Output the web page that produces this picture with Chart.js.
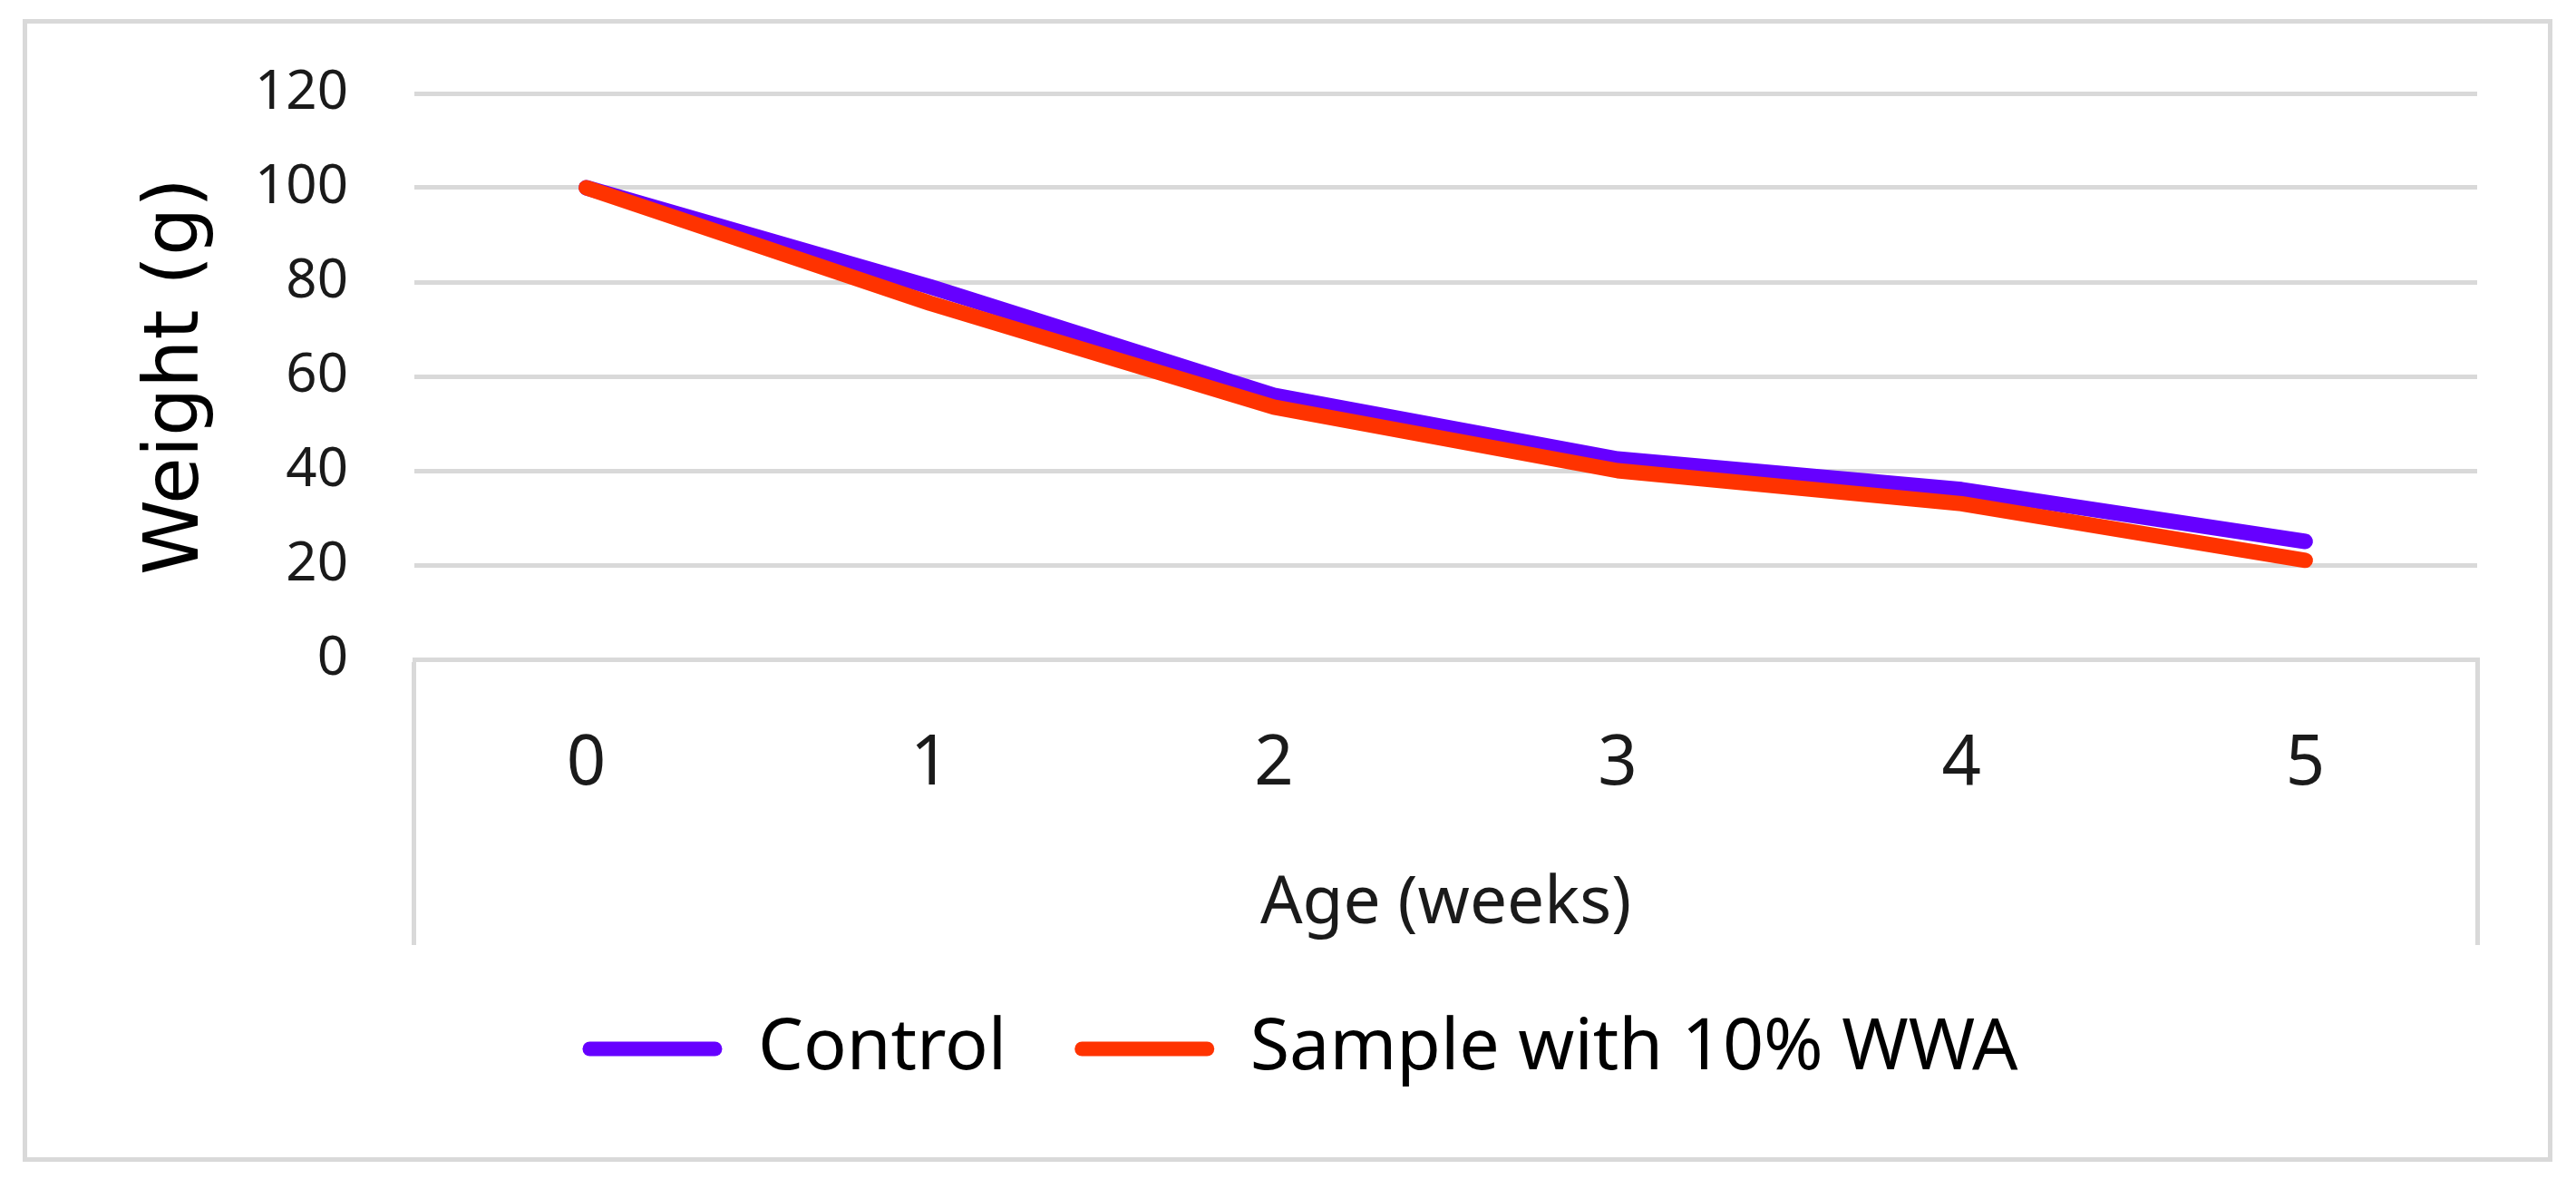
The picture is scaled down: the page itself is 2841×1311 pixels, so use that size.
<!DOCTYPE html>
<html>
<head>
<meta charset="utf-8">
<title>Weight by age</title>
<script src="https://cdn.jsdelivr.net/npm/chart.js@4.4.1/dist/chart.umd.min.js"></script>
<style>
    body { margin: 0; background: #fff; }
    #moldura {
        position: absolute; left: 25px; top: 21px;
        width: 2790px; height: 1260px;
        box-sizing: border-box; border: 5px solid #d9d9d9;
    }
    #grafico { position: absolute; left: 0; top: 0; }
</style>
</head>
<body>
<div id="moldura"></div>
<canvas id="grafico" width="2841" height="1311"></canvas>
<script>
// dados
const semanas = ['0', '1', '2', '3', '4', '5'];
const controle = [100, 79, 56, 42.5, 36, 25];
const amostra = [100, 75.5, 53.5, 40, 33, 21];
const nomes = ['Control', 'Sample with 10% WWA'];
const limiteY = 120;
const passoY = 20;

const cinza = '#d9d9d9';

const ctx = document.getElementById('grafico').getContext('2d');
new Chart(ctx, {
    type: 'line',
    data: {
        labels: semanas,
        datasets: [{
            label: nomes[0],
            data: controle,
            borderColor: '#6600ff',
            backgroundColor: '#6600ff',
            order: 1
        }, {
            label: nomes[1],
            data: amostra,
            borderColor: '#ff3300',
            backgroundColor: '#ff3300',
            order: 0 // vermelho por cima
        }]
    },
    options: {
        responsive: false,
        devicePixelRatio: 1,
        animation: false,
        layout: { padding: { left: 136, right: 109, top: 103, bottom: 105 } },
        elements: {
            line: { borderWidth: 17, tension: 0, borderCapStyle: 'round', borderJoinStyle: 'round', fill: false },
            point: { radius: 0, hoverRadius: 0 }
        },
        plugins: {
            tooltip: { enabled: false },
            legend: {
                position: 'bottom',
                labels: {
                    font: { family: 'Noto Sans', size: 79, lineHeight: 1 },
                    color: '#000',
                    boxWidth: 154,
                    boxHeight: 16,
                    padding: 75,
                    useBorderRadius: true,
                    borderRadius: 8,
                    generateLabels: function (chart) {
                        const itens = Chart.defaults.plugins.legend.labels.generateLabels(chart);
                        return itens.map(i => Object.assign({}, i, { lineWidth: 0, fillStyle: i.strokeStyle }));
                    },
                    sort: (a, b) => a.datasetIndex - b.datasetIndex
                }
            }
        },
        scales: {
            x: {
                offset: true,
                afterFit: function (escala) { escala.height = 315; },
                grid: {
                    offset: true,
                    drawOnChartArea: false,
                    drawTicks: true,
                    tickLength: 315,
                    tickWidth: 5,
                    lineWidth: 5,
                    tickColor: c => (c.type === 'tick' && c.index > 0) ? 'rgba(0,0,0,0)' : cinza,
                    color: c => (c.type === 'tick' && c.index > 0) ? 'rgba(0,0,0,0)' : cinza
                },
                border: { display: true, color: cinza, width: 5 },
                ticks: {
                    padding: -237,
                    color: '#1a1a1a',
                    font: { family: 'Noto Sans', size: 76, lineHeight: 1 }
                },
                title: {
                    display: true,
                    text: 'Age (weeks)',
                    color: '#1a1a1a',
                    font: { family: 'Noto Sans', size: 73, lineHeight: 1 },
                    padding: { top: 0, bottom: 8 }
                }
            },
            y: {
                min: 0,
                max: limiteY,
                afterFit: function (escala) { escala.width = 321; },
                grid: { color: cinza, lineWidth: 5, drawTicks: false },
                border: { display: false },
                ticks: {
                    stepSize: passoY,
                    padding: 73,
                    color: '#1a1a1a',
                    font: { family: 'Noto Sans', size: 60, lineHeight: 1 }
                },
                title: {
                    display: true,
                    text: 'Weight (g)',
                    color: '#000',
                    font: { family: 'DejaVu Sans', size: 84, lineHeight: 1 },
                    padding: { top: 18, bottom: 0 }
                }
            }
        }
    }
});
</script>
</body>
</html>
